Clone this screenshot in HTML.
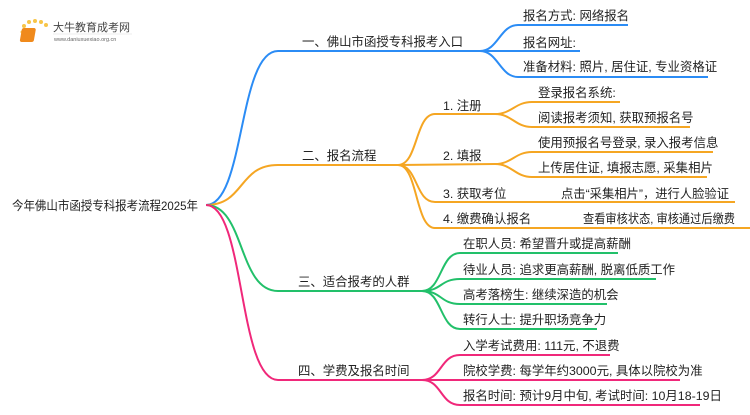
<!DOCTYPE html>
<html><head><meta charset="utf-8"><style>
body{margin:0;background:#fff;width:750px;height:410px;overflow:hidden}
svg text{font-family:"Liberation Sans","Noto Sans CJK SC",sans-serif;font-size:12.4px;fill:#222}
</style></head><body>
<svg width="750" height="410" xmlns="http://www.w3.org/2000/svg" fill="none" stroke-width="2">
<!-- logo -->
<circle cx="24" cy="26" r="2" fill="#f7c548" stroke="none"/><circle cx="29" cy="22" r="2" fill="#f7c548" stroke="none"/><circle cx="35" cy="21" r="2" fill="#f7c548" stroke="none"/><circle cx="41" cy="22" r="2" fill="#f7c548" stroke="none"/><circle cx="46" cy="25" r="2" fill="#f7c548" stroke="none"/><circle cx="22" cy="32" r="1.5" fill="#f7c548" stroke="none"/><circle cx="23" cy="39" r="1.5" fill="#f7c548" stroke="none"/>
<rect x="27" y="28" width="14" height="14" rx="2" fill="#f08a1c" stroke="none" transform="skewX(-10)"/>
<text x="53" y="31" style="font-size:11px;fill:#444">大牛教育成考网</text>
<text x="54" y="41" style="font-size:5.5px;fill:#666">www.daniuxuexiao.org.cn</text>
<line x1="53" y1="34" x2="132" y2="34" stroke="#ddd" stroke-width="0.6"/>
<!-- root -->
<text x="12" y="210" textLength="186" lengthAdjust="spacingAndGlyphs">今年佛山市函授专科报考流程2025年</text>
<!-- blue -->
<g stroke="#2b8cf5">
<path d="M206 205 C245 205 238 51 278 51 L480 51"/>
<path d="M480 51 C498 51 500 25 518 25 L628 25"/>
<path d="M480 51 L580 51"/>
<path d="M480 51 C498 51 500 77 518 77 L708 77"/>
</g>
<text x="302" y="46">一、佛山市函授专科报考入口</text>
<text x="523" y="20">报名方式: 网络报名</text>
<text x="523" y="47">报名网址:</text>
<text x="523" y="71">准备材料: 照片, 居住证, 专业资格证</text>
<!-- orange -->
<g stroke="#f5a623">
<path d="M206 205 C245 205 238 165 278 165 L398 165"/>
<path d="M398 165 C418 165 415 114 435 114 L495 114"/>
<path d="M398 165 L495 164"/>
<path d="M398 165 C418 165 415 202 435 202 L735 202"/>
<path d="M398 165 C418 165 415 228 435 228 L750 228"/>
<path d="M495 114 C512 114 515 102 532 102 L620 102"/>
<path d="M495 114 C512 114 515 127 532 127 L690 127"/>
<path d="M495 164 C512 164 515 152 532 152 L713 152"/>
<path d="M495 164 C512 164 515 177 532 177 L707 177"/>
</g>
<text x="302" y="160">二、报名流程</text>
<text x="443" y="110">1. 注册</text>
<text x="443" y="160">2. 填报</text>
<text x="443" y="198">3. 获取考位</text>
<text x="443" y="223">4. 缴费确认报名</text>
<text x="538" y="97">登录报名系统:</text>
<text x="538" y="122">阅读报考须知, 获取预报名号</text>
<text x="538" y="147">使用预报名号登录, 录入报考信息</text>
<text x="538" y="172">上传居住证, 填报志愿, 采集相片</text>
<text x="561" y="198" textLength="168" lengthAdjust="spacingAndGlyphs">点击“采集相片”，进行人脸验证</text>
<text x="583" y="223" textLength="152" lengthAdjust="spacingAndGlyphs">查看审核状态, 审核通过后缴费</text>
<!-- green -->
<g stroke="#22c06a">
<path d="M206 205 C245 205 238 291 278 291 L422 291"/>
<path d="M422 291 C442 291 440 253 460 253 L618 253"/>
<path d="M422 291 C442 291 440 279 460 279 L656 279"/>
<path d="M422 291 C442 291 440 304 460 304 L607 304"/>
<path d="M422 291 C442 291 440 329 460 329 L597 329"/>
</g>
<text x="298" y="286">三、适合报考的人群</text>
<text x="463" y="248">在职人员: 希望晋升或提高薪酬</text>
<text x="463" y="274">待业人员: 追求更高薪酬, 脱离低质工作</text>
<text x="463" y="299">高考落榜生: 继续深造的机会</text>
<text x="463" y="324">转行人士: 提升职场竞争力</text>
<!-- pink -->
<g stroke="#f0287a">
<path d="M206 205 C245 205 238 380 278 380 L422 380"/>
<path d="M422 380 C442 380 440 355 460 355 L610 355"/>
<path d="M422 380 L680 380"/>
<path d="M422 380 C442 380 440 405 460 405 L700 405"/>
</g>
<text x="298" y="375">四、学费及报名时间</text>
<text x="463" y="350">入学考试费用: 111元, 不退费</text>
<text x="463" y="375">院校学费: 每学年约3000元, 具体以院校为准</text>
<text x="463" y="400">报名时间: 预计9月中旬, 考试时间: 10月18-19日</text>
</svg>
</body></html>
